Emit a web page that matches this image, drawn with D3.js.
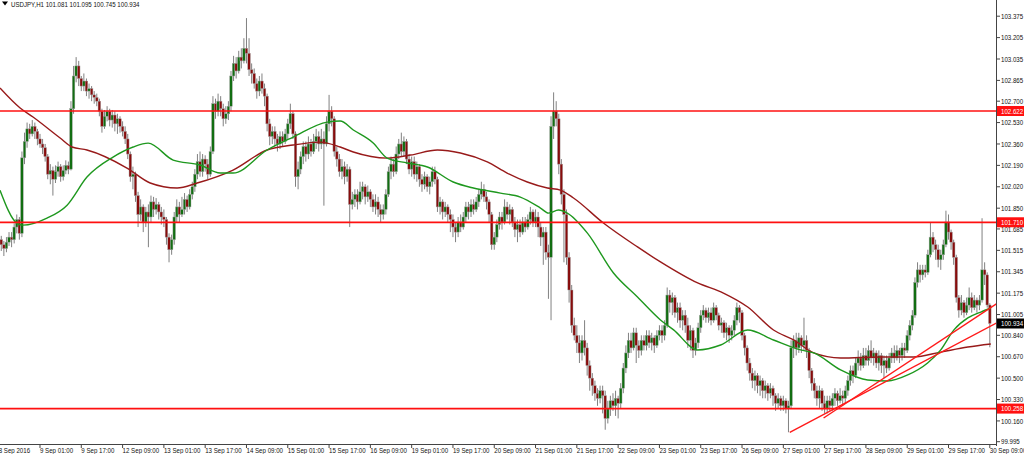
<!DOCTYPE html>
<html><head><meta charset="utf-8">
<script src="https://cdn.jsdelivr.net/npm/d3@7/dist/d3.min.js"></script>
<style>body{margin:0;background:#fff;}svg{display:block;}text{font-family:"Liberation Sans",Arial,sans-serif;}</style>
</head><body><svg id="c" width="1024" height="454"></svg>
<script>
const symbol = "USDJPY,H1";
const headerValues = ["101.081", "101.095", "100.745", "100.934"];
const timeLabels = ["8 Sep 2016","9 Sep 01:00","9 Sep 17:00","12 Sep 09:00","13 Sep 01:00","13 Sep 17:00","14 Sep 09:00","15 Sep 01:00","15 Sep 17:00","16 Sep 09:00","19 Sep 01:00","19 Sep 17:00","20 Sep 09:00","21 Sep 01:00","21 Sep 17:00","22 Sep 09:00","23 Sep 01:00","23 Sep 17:00","26 Sep 09:00","27 Sep 01:00","27 Sep 17:00","28 Sep 09:00","29 Sep 01:00","29 Sep 17:00","30 Sep 09:00"];
const priceTicks = [103.375,103.205,103.035,102.865,102.700,102.530,102.360,102.190,102.020,101.850,101.685,101.515,101.345,101.175,101.005,100.840,100.670,100.500,100.330,100.160,99.995];
const firstOpen = 101.58;
const closes = [
101.60,101.56,101.53,101.58,101.62,101.60,101.70,101.76,101.65,102.25,102.38,102.48,102.44,102.50,102.46,102.40,
102.36,102.33,102.26,102.12,102.15,102.08,102.14,102.18,102.10,102.15,102.19,102.16,102.64,102.90,102.98,102.88,
102.82,102.86,102.78,102.80,102.75,102.73,102.70,102.62,102.50,102.58,102.62,102.55,102.59,102.52,102.56,102.50,
102.46,102.40,102.28,102.10,102.12,101.95,101.80,101.86,101.74,101.82,101.78,101.90,101.84,101.88,101.82,101.78,
101.76,101.62,101.52,101.60,101.78,101.86,101.80,101.84,101.92,101.86,101.96,102.02,102.12,102.22,102.14,102.24,
102.20,102.12,102.30,102.68,102.62,102.70,102.64,102.56,102.60,102.66,102.90,103.00,102.94,103.05,103.02,103.12,
103.08,102.95,102.92,102.84,102.78,102.86,102.80,102.74,102.52,102.42,102.46,102.40,102.36,102.42,102.38,102.44,
102.52,102.60,102.44,102.10,102.16,102.26,102.34,102.28,102.36,102.30,102.38,102.42,102.36,102.40,102.36,102.52,
102.62,102.56,102.30,102.24,102.14,102.18,102.10,102.16,101.88,101.92,101.96,101.90,101.98,102.02,101.94,101.98,
101.92,101.86,101.90,101.84,101.80,101.84,101.96,102.14,102.20,102.14,102.28,102.36,102.30,102.38,102.24,102.16,
102.22,102.12,102.18,102.08,102.04,102.10,102.02,102.06,102.14,102.08,101.86,101.90,101.82,101.86,101.80,101.76,
101.70,101.66,101.74,101.70,101.78,101.86,101.82,101.88,101.84,101.90,101.96,102.00,101.94,101.90,101.80,101.56,
101.62,101.72,101.78,101.74,101.86,101.80,101.84,101.74,101.68,101.72,101.66,101.74,101.70,101.76,101.82,101.74,
101.78,101.70,101.62,101.66,101.50,101.46,102.50,102.62,102.56,102.20,101.96,101.80,101.46,101.20,100.92,100.84,
100.78,100.70,100.80,100.74,100.60,100.50,100.44,100.38,100.34,100.40,100.36,100.18,100.26,100.32,100.28,100.34,
100.30,100.42,100.58,100.70,100.80,100.74,100.86,100.76,100.72,100.80,100.76,100.84,100.78,100.82,100.76,100.84,
100.88,100.84,100.92,101.16,101.10,101.14,101.02,101.06,100.96,101.00,100.92,100.80,100.88,100.72,100.78,100.90,
101.00,101.04,100.98,101.02,100.96,101.06,101.00,100.92,100.94,100.86,100.90,100.84,100.88,100.96,101.06,101.02,
100.84,100.74,100.62,100.54,100.48,100.52,100.44,100.48,100.40,100.44,100.38,100.42,100.36,100.30,100.34,100.28,
100.32,100.26,100.28,100.74,100.80,100.74,100.82,100.76,100.80,100.72,100.56,100.46,100.40,100.34,100.40,100.30,
100.26,100.32,100.28,100.34,100.38,100.32,100.36,100.34,100.40,100.48,100.56,100.52,100.62,100.66,100.60,100.68,
100.64,100.72,100.66,100.70,100.62,100.68,100.60,100.64,100.58,100.66,100.70,100.66,100.72,100.68,100.74,100.72,
100.84,100.92,101.00,101.26,101.36,101.32,101.36,101.34,101.48,101.62,101.56,101.52,101.44,101.48,101.56,101.74,
101.66,101.58,101.46,101.14,101.04,101.10,101.02,101.08,101.14,101.06,101.12,101.08,101.12,101.36,101.32,101.081,100.934];
const highs = [
101.66,101.63,101.59,101.62,101.66,101.66,101.73,101.80,101.78,102.30,102.45,102.53,102.52,102.55,102.53,102.48,
102.44,102.40,102.36,102.28,102.20,102.18,102.19,102.22,102.20,102.19,102.23,102.22,102.70,102.98,103.05,103.02,
102.90,102.92,102.88,102.84,102.82,102.78,102.76,102.72,102.64,102.63,102.66,102.64,102.63,102.62,102.60,102.58,
102.54,102.50,102.44,102.30,102.18,102.14,101.98,101.92,101.88,101.86,101.88,101.95,101.94,101.93,101.90,101.86,
101.84,101.78,101.65,101.64,101.82,101.92,101.90,101.94,101.97,101.95,102.00,102.06,102.16,102.28,102.30,102.28,
102.27,102.24,102.34,102.74,102.72,102.76,102.74,102.68,102.66,102.70,102.94,103.06,103.05,103.10,103.12,103.20,
103.36,103.20,103.00,102.96,102.88,102.90,102.92,102.84,102.76,102.56,102.50,102.50,102.44,102.46,102.46,102.48,
102.56,102.68,102.62,102.46,102.22,102.30,102.38,102.38,102.42,102.40,102.44,102.48,102.46,102.48,102.46,102.58,
102.75,102.66,102.58,102.34,102.28,102.24,102.22,102.20,102.18,101.98,102.00,102.00,102.06,102.06,102.04,102.03,
102.00,101.96,101.96,101.94,101.88,101.88,102.00,102.18,102.26,102.24,102.34,102.40,102.45,102.42,102.40,102.28,
102.26,102.26,102.22,102.20,102.12,102.14,102.12,102.10,102.18,102.18,102.10,101.94,101.92,101.90,101.88,101.84,
101.80,101.74,101.78,101.80,101.82,101.90,101.90,101.92,101.92,101.94,102.00,102.06,102.04,101.98,101.92,101.82,
101.66,101.76,101.82,101.82,101.92,101.90,101.88,101.86,101.78,101.76,101.76,101.78,101.78,101.80,101.86,101.84,
101.84,101.82,101.74,101.70,101.70,101.56,102.58,102.77,102.70,102.60,102.24,102.00,101.84,101.50,101.24,100.98,
100.92,100.84,100.84,100.96,100.78,100.64,100.54,100.48,100.42,100.44,100.44,100.40,100.32,100.36,100.38,100.40,
100.36,100.46,100.62,100.76,100.86,100.86,100.90,100.90,100.80,100.84,100.84,100.88,100.88,100.86,100.84,100.88,
100.92,100.92,100.96,101.22,101.20,101.18,101.16,101.10,101.10,101.04,101.04,100.98,100.92,100.90,100.82,100.94,
101.04,101.08,101.06,101.06,101.06,101.10,101.08,101.02,100.98,100.96,100.94,100.92,100.92,101.00,101.10,101.08,
101.04,100.86,100.76,100.66,100.58,100.56,100.54,100.52,100.50,100.48,100.46,100.46,100.44,100.38,100.38,100.36,
100.36,100.34,100.32,100.80,100.84,100.86,100.86,100.84,100.98,100.84,100.74,100.58,100.50,100.44,100.44,100.42,
100.36,100.36,100.36,100.38,100.42,100.40,100.42,100.40,100.44,100.52,100.60,100.60,100.66,100.72,100.70,100.74,
100.74,100.76,100.80,100.74,100.72,100.72,100.70,100.68,100.68,100.70,100.74,100.76,100.76,100.74,100.78,100.78,
100.88,100.96,101.04,101.30,101.42,101.40,101.40,101.40,101.52,101.74,101.66,101.60,101.56,101.52,101.60,101.83,
101.80,101.68,101.60,101.48,101.16,101.16,101.12,101.14,101.22,101.18,101.16,101.14,101.16,101.77,101.42,101.34,101.095];
const lows = [
101.55,101.51,101.47,101.50,101.55,101.54,101.57,101.65,101.60,101.62,102.20,102.33,102.40,102.42,102.40,102.35,
102.33,102.28,102.22,102.08,102.04,101.95,102.05,102.10,102.06,102.07,102.12,102.12,102.15,102.60,102.85,102.82,
102.78,102.78,102.74,102.72,102.70,102.68,102.66,102.58,102.45,102.48,102.54,102.50,102.49,102.46,102.44,102.45,
102.42,102.36,102.24,102.06,102.00,101.90,101.70,101.75,101.66,101.70,101.54,101.74,101.78,101.80,101.76,101.72,
101.70,101.56,101.42,101.48,101.56,101.74,101.74,101.78,101.80,101.82,101.84,101.92,101.98,102.08,102.10,102.10,
102.14,102.08,102.10,102.28,102.56,102.58,102.58,102.50,102.52,102.55,102.62,102.86,102.88,102.92,102.96,103.00,
103.00,102.90,102.84,102.80,102.72,102.74,102.76,102.66,102.46,102.35,102.36,102.34,102.30,102.32,102.34,102.36,
102.40,102.48,102.40,102.02,102.00,102.12,102.20,102.22,102.24,102.26,102.28,102.32,102.30,102.32,101.87,102.34,
102.46,102.50,102.26,102.18,102.10,102.08,102.04,102.06,101.70,101.84,101.86,101.84,101.88,101.92,101.88,101.90,
101.86,101.82,101.80,101.78,101.74,101.76,101.80,101.94,102.08,102.10,102.12,102.24,102.26,102.26,102.20,102.12,
102.10,102.08,102.06,102.02,101.98,102.00,101.98,101.96,102.02,102.04,101.82,101.80,101.76,101.78,101.74,101.66,
101.62,101.58,101.62,101.66,101.68,101.74,101.76,101.78,101.80,101.82,101.86,101.92,101.90,101.84,101.74,101.52,
101.52,101.58,101.68,101.68,101.72,101.76,101.72,101.70,101.62,101.58,101.62,101.64,101.66,101.68,101.72,101.70,
101.70,101.62,101.55,101.40,101.44,101.13,100.96,102.40,102.50,102.12,101.88,101.42,101.40,101.10,100.86,100.80,
100.70,100.62,100.64,100.68,100.52,100.40,100.36,100.32,100.28,100.30,100.22,100.09,100.14,100.20,100.24,100.20,
100.18,100.26,100.38,100.54,100.66,100.70,100.72,100.62,100.66,100.68,100.72,100.72,100.74,100.72,100.70,100.74,
100.80,100.78,100.80,100.90,101.02,101.00,100.98,100.94,100.90,100.88,100.86,100.74,100.72,100.66,100.68,100.74,
100.86,100.96,100.94,100.94,100.92,100.94,100.96,100.88,100.86,100.82,100.80,100.78,100.80,100.84,100.92,100.94,
100.80,100.68,100.56,100.48,100.42,100.40,100.38,100.36,100.34,100.34,100.32,100.34,100.28,100.24,100.26,100.24,
100.24,100.22,100.07,100.26,100.66,100.68,100.70,100.70,100.72,100.66,100.50,100.40,100.34,100.28,100.26,100.24,
100.22,100.22,100.24,100.24,100.28,100.28,100.30,100.28,100.30,100.36,100.44,100.46,100.50,100.56,100.56,100.58,
100.60,100.60,100.62,100.60,100.58,100.56,100.54,100.50,100.54,100.56,100.62,100.62,100.64,100.62,100.64,100.66,
100.70,100.80,100.88,100.98,101.22,101.26,101.28,101.30,101.32,101.46,101.50,101.44,101.38,101.36,101.44,101.54,
101.60,101.52,101.40,101.10,100.98,101.00,100.98,101.00,101.04,101.02,101.04,101.02,101.04,101.10,101.24,101.06,100.745];

// moving averages read at knot bars
const slowMaBars = [0.5,8.3,13.3,23.8,28.4,34.2,49.7,58.7,69.1,76.9,90.8,104,114.1,124.6,132.3,137.4,150.5,159.5,170,178.9,189.3,197,204.8,212.6,217.6,222.7,234.3,247.5,256.4,270.8,280.8,290.2,300.2,308,315.8,326.2,341.7,354.5,365,375.5,384.4];
const slowMaValues = [102.805,102.646,102.574,102.407,102.336,102.312,102.169,102.050,102.010,102.050,102.153,102.312,102.352,102.375,102.336,102.296,102.248,102.272,102.312,102.288,102.217,102.129,102.058,102.010,101.994,101.931,101.732,101.542,101.423,101.256,101.176,101.065,100.882,100.803,100.700,100.660,100.668,100.668,100.707,100.747,100.771];
const fastMaBars = [0.5,7.1,9.4,18.7,26.5,34.2,44.3,52.1,57.9,67.6,78,85.8,90.8,104,114.1,127.3,132.3,137.4,145.1,150.5,158.3,166.1,176.1,183.9,194.4,202.1,209.9,213,216.9,220.3,228.1,238.2,247.5,256.4,261.5,270.8,279.7,290.2,300.2,310.7,315.8,326.2,336.7,344.4,352.2,359.9,365,370.1,375.5,380.5,384.4];
const fastMaValues = [101.993,101.730,101.715,101.771,101.874,102.097,102.256,102.336,102.367,102.232,102.193,102.129,102.129,102.312,102.415,102.534,102.542,102.471,102.368,102.248,102.209,102.177,102.058,102.010,101.970,101.938,101.851,101.811,101.835,101.811,101.652,101.335,101.144,100.962,100.883,100.724,100.763,100.882,100.803,100.724,100.700,100.565,100.485,100.477,100.525,100.620,100.724,100.883,100.978,101.025,101.057];

const levelPrices = [102.622, 101.738, 100.258];
const levelLabels = ["102.622", "101.710", "100.258"];
const trendLineA = [[306.5, 100.07], [392, 100.996]];
const trendLineB = [[319.6, 100.183], [392, 101.163]];
const lastPrice = 100.934;

const svg = d3.select("#c");
const plotRight = 996, plotBottom = 444;
const x = d3.scaleLinear().domain([0, 384]).range([-1.3, 989.8]);
const y = d3.scaleLinear().domain([99.995, 103.375]).range([441.7, 16.2]);
const FS = 7.5, SX = 0.82;

svg.append("defs").append("clipPath").attr("id", "clip")
  .append("rect").attr("x", 0).attr("y", 0).attr("width", plotRight).attr("height", plotBottom);
const plot = svg.append("g").attr("clip-path", "url(#clip)");

const bars = closes.map((c, i) => ({ i, o: i ? closes[i - 1] : firstOpen, c, h: highs[i], l: lows[i] }));
const bullCol = "#126e12", bearCol = "#880c0c";

plot.append("g").selectAll("line").data(bars).join("line")
  .attr("x1", d => x(d.i)).attr("x2", d => x(d.i))
  .attr("y1", d => y(Math.max(d.h, d.o, d.c))).attr("y2", d => y(Math.min(d.l, d.o, d.c)))
  .attr("stroke", "#7a7a7a").attr("stroke-width", 0.95);

plot.append("g").selectAll("rect").data(bars).join("rect")
  .attr("x", d => x(d.i) - 1.3).attr("width", 2.6)
  .attr("y", d => y(Math.max(d.o, d.c)))
  .attr("height", d => Math.max(0.8, Math.abs(y(d.o) - y(d.c))))
  .attr("fill", d => d.c >= d.o ? bullCol : bearCol)
  .attr("stroke", "#a4a4a4").attr("stroke-width", 0.45);

const maLine = d3.line().x(d => x(d[0])).y(d => y(d[1])).curve(d3.curveMonotoneX);
plot.append("path").datum(slowMaBars.map((b, k) => [b, slowMaValues[k]]))
  .attr("d", maLine).attr("fill", "none").attr("stroke", "#981a1a").attr("stroke-width", 1.4);
plot.append("path").datum(fastMaBars.map((b, k) => [b, fastMaValues[k]]))
  .attr("d", maLine).attr("fill", "none").attr("stroke", "#1e981e").attr("stroke-width", 1.4);

plot.append("g").selectAll("line").data(levelPrices).join("line")
  .attr("x1", 0).attr("x2", plotRight).attr("y1", d => y(d)).attr("y2", d => y(d))
  .attr("stroke", "#ff1010").attr("stroke-width", 1.7);

const tl = d3.line().x(d => x(d[0])).y(d => y(d[1]));
[trendLineA, trendLineB].forEach(t => plot.append("path").datum(t).attr("d", tl)
  .attr("fill", "none").attr("stroke", "#ff1a1a").attr("stroke-width", 1.4));

// axes
svg.append("line").attr("x1", plotRight + 0.5).attr("x2", plotRight + 0.5).attr("y1", 0).attr("y2", plotBottom + 2)
  .attr("stroke", "#444").attr("stroke-width", 1);
svg.append("line").attr("x1", 0).attr("x2", plotRight + 1).attr("y1", plotBottom + 0.5).attr("y2", plotBottom + 0.5)
  .attr("stroke", "#444").attr("stroke-width", 1);

function label(sel, px, py, str, fill) {
  return sel.append("text").attr("transform", `translate(${px},${py}) scale(${SX},1)`)
    .attr("font-size", FS).attr("fill", fill || "#111").text(str);
}
const fmt = d3.format(".3f");
priceTicks.forEach(p => {
  svg.append("line").attr("x1", plotRight).attr("x2", plotRight + 4).attr("y1", y(p)).attr("y2", y(p)).attr("stroke", "#444");
  label(svg, 1001, y(p) + 2.7, fmt(p));
});

timeLabels.forEach((t, k) => {
  const px = x(k * 16);
  svg.append("line").attr("x1", px).attr("x2", px).attr("y1", plotBottom).attr("y2", plotBottom + 4).attr("stroke", "#444");
  label(svg, px, 453, t);
});

levelPrices.forEach((p, k) => {
  svg.append("rect").attr("x", plotRight + 1).attr("y", y(p) - 5).attr("width", 28).attr("height", 10).attr("fill", "#ff1010");
  label(svg, 1001, y(p) + 2.7, levelLabels[k], "#fff");
});
svg.append("rect").attr("x", plotRight + 1).attr("y", y(lastPrice) - 5).attr("width", 28).attr("height", 10).attr("fill", "#000");
label(svg, 1001, y(lastPrice) + 2.7, fmt(lastPrice), "#fff");

// header
svg.append("path").attr("d", "M2,1.5 L8,1.5 L5,5.5 Z").attr("fill", "#000");
label(svg, 11, 6.5, symbol + "  " + headerValues.join(" "));
</script></body></html>
